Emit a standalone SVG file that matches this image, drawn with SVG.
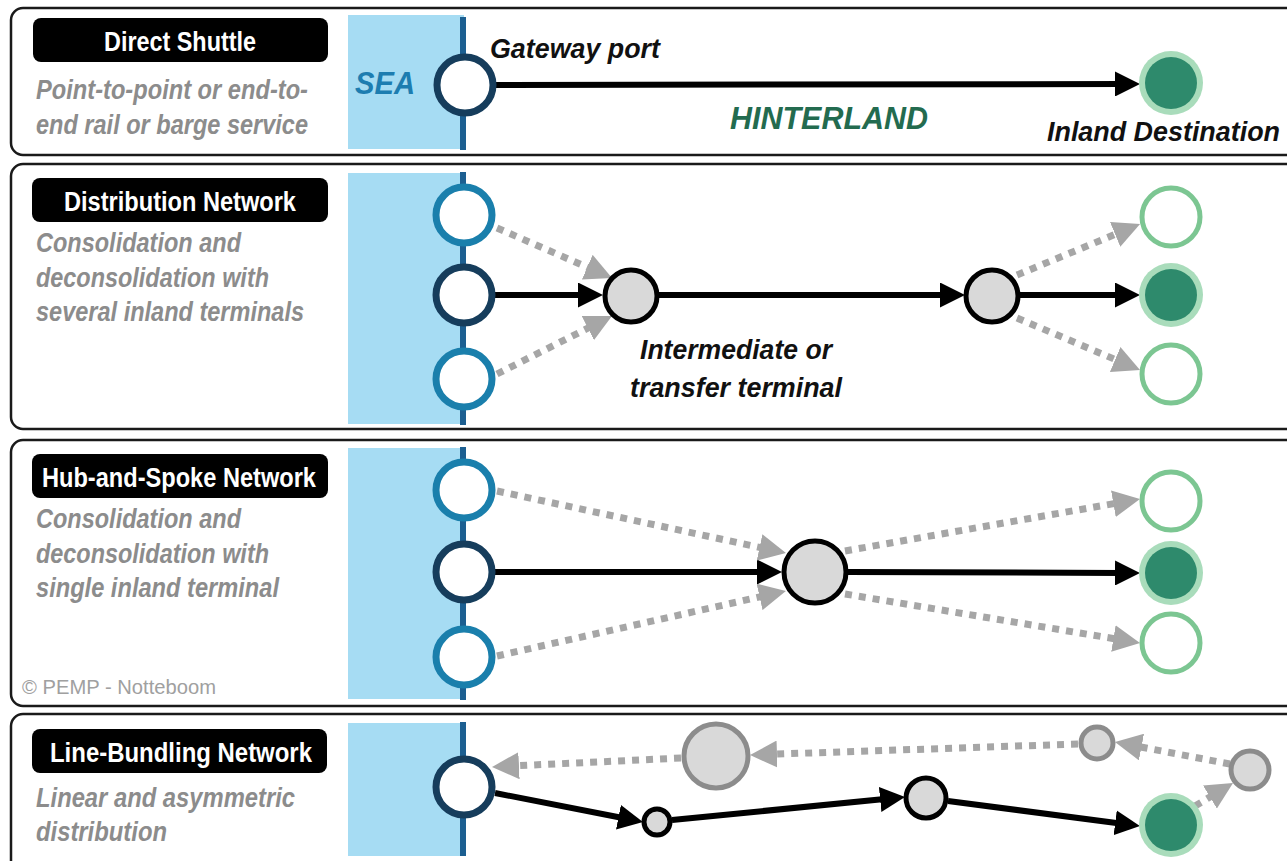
<svg xmlns="http://www.w3.org/2000/svg" width="1287" height="861" viewBox="0 0 1287 861">
<style>
.panel{fill:#fff;stroke:#1a1a1a;stroke-width:2.5}
.sea{fill:#a6dcf3}
.coast{stroke:#1c5f91;stroke-width:6}
.tbox{fill:#000}
.title{font-family:"Liberation Sans",Arial,sans-serif;font-weight:bold;font-size:27px;fill:#fff}
.desc{font-family:"Liberation Sans",Arial,sans-serif;font-weight:bold;font-style:italic;font-size:27px;fill:#8c8c8c}
.lbl{font-family:"Liberation Sans",Arial,sans-serif;font-weight:bold;font-style:italic;font-size:27px;fill:#111}
.port{fill:#fff;stroke:#163d5c;stroke-width:7}
.port2{fill:#fff;stroke:#1a7fac;stroke-width:7}
.term{fill:#d9d9d9;stroke:#000;stroke-width:5}
.gterm{fill:#d9d9d9;stroke:#8c8c8c;stroke-width:5}
.dest-o{fill:#fff;stroke:#7cc692;stroke-width:5}
.halo{fill:#a9dcbb}
.dest{fill:#2e8a6c}
.solid{fill:none;stroke:#000;stroke-width:6}
.dash{fill:none;stroke:#a6a6a6;stroke-width:7;stroke-dasharray:7 7}
</style>
<defs>
<marker id="ab" markerUnits="userSpaceOnUse" markerWidth="25" markerHeight="25" refX="7" refY="12.5" orient="auto"><path d="M0,0 L25,12.5 L0,25 z" fill="#000"/></marker>
<marker id="ag" markerUnits="userSpaceOnUse" markerWidth="27" markerHeight="27" refX="7" refY="13.5" orient="auto"><path d="M0,0 L27,13.5 L0,27 z" fill="#a6a6a6"/></marker>
</defs>
<rect width="1287" height="861" fill="#fff"/>

<g id="panels">
<rect class="panel" x="11" y="8" width="1300" height="147" rx="12"/>
<rect class="panel" x="11" y="164" width="1300" height="265" rx="12"/>
<rect class="panel" x="11" y="440" width="1300" height="266" rx="12"/>
<rect class="panel" x="11" y="714" width="1300" height="170" rx="12"/>
</g>

<g id="sea">
<rect class="sea" x="348" y="15" width="116" height="134"/>
<rect class="sea" x="348" y="173" width="116" height="251"/>
<rect class="sea" x="348" y="448" width="116" height="251"/>
<rect class="sea" x="348" y="723" width="116" height="133"/>
<line class="coast" x1="463" y1="17" x2="463" y2="150"/>
<line class="coast" x1="463" y1="172" x2="463" y2="425"/>
<line class="coast" x1="463" y1="447" x2="463" y2="700"/>
<line class="coast" x1="463" y1="722" x2="463" y2="856"/>
</g>

<g id="titles">
<g id="title-direct"><rect class="tbox" x="33" y="18" width="295" height="44" rx="8"/><text class="title" x="180" y="51" text-anchor="middle" textLength="152" lengthAdjust="spacingAndGlyphs">Direct Shuttle</text></g>
<g id="title-distribution"><rect class="tbox" x="32" y="178" width="296" height="44" rx="8"/><text class="title" x="180" y="211" text-anchor="middle" textLength="232" lengthAdjust="spacingAndGlyphs">Distribution Network</text></g>
<g id="title-hub"><rect class="tbox" x="32" y="454" width="296" height="44" rx="8"/><text class="title" x="179" y="487" text-anchor="middle" textLength="274" lengthAdjust="spacingAndGlyphs">Hub-and-Spoke Network</text></g>
<g id="title-line"><rect class="tbox" x="32" y="729" width="295" height="44" rx="8"/><text class="title" x="181" y="762" text-anchor="middle" textLength="262" lengthAdjust="spacingAndGlyphs">Line-Bundling Network</text></g>
</g>

<g id="descriptions">
<text class="desc" x="36" y="99" textLength="272" lengthAdjust="spacingAndGlyphs">Point-to-point or end-to-</text>
<text class="desc" x="36" y="134" textLength="272" lengthAdjust="spacingAndGlyphs">end rail or barge service</text>
<text class="desc" x="36" y="252" textLength="205" lengthAdjust="spacingAndGlyphs">Consolidation and</text>
<text class="desc" x="36" y="287" textLength="233" lengthAdjust="spacingAndGlyphs">deconsolidation with</text>
<text class="desc" x="36" y="321" textLength="268" lengthAdjust="spacingAndGlyphs">several inland terminals</text>
<text class="desc" x="36" y="528" textLength="205" lengthAdjust="spacingAndGlyphs">Consolidation and</text>
<text class="desc" x="36" y="563" textLength="233" lengthAdjust="spacingAndGlyphs">deconsolidation with</text>
<text class="desc" x="36" y="597" textLength="243" lengthAdjust="spacingAndGlyphs">single inland terminal</text>
<text class="desc" x="36" y="807" textLength="259" lengthAdjust="spacingAndGlyphs">Linear and asymmetric</text>
<text class="desc" x="36" y="841" textLength="131" lengthAdjust="spacingAndGlyphs">distribution</text>
<text x="22" y="694" font-family="'Liberation Sans',Arial,sans-serif" font-size="20" fill="#a0a0a0" textLength="194" lengthAdjust="spacingAndGlyphs">© PEMP - Notteboom</text>
</g>

<g id="labels">
<text class="lbl" x="490" y="58" textLength="170" lengthAdjust="spacingAndGlyphs">Gateway port</text>
<text x="355" y="94" font-family="'Liberation Sans',Arial,sans-serif" font-weight="bold" font-style="italic" font-size="31" fill="#1d7db0" textLength="60" lengthAdjust="spacingAndGlyphs">SEA</text>
<text x="730" y="129" font-family="'Liberation Sans',Arial,sans-serif" font-weight="bold" font-style="italic" font-size="31" fill="#236b4f" textLength="198" lengthAdjust="spacingAndGlyphs">HINTERLAND</text>
<text class="lbl" x="1047" y="141" textLength="233" lengthAdjust="spacingAndGlyphs">Inland Destination</text>
<text class="lbl" x="736" y="359" text-anchor="middle" textLength="192" lengthAdjust="spacingAndGlyphs">Intermediate or</text>
<text class="lbl" x="736" y="397" text-anchor="middle" textLength="212" lengthAdjust="spacingAndGlyphs">transfer terminal</text>
</g>

<g id="connectors">
<line class="solid" x1="494" y1="85" x2="1122" y2="84" marker-end="url(#ab)"/>

<line class="solid" x1="494" y1="295" x2="585" y2="295" marker-end="url(#ab)"/>
<line class="solid" x1="657" y1="295" x2="947" y2="295" marker-end="url(#ab)"/>
<line class="solid" x1="1018" y1="295" x2="1122" y2="295" marker-end="url(#ab)"/>
<line class="dash" x1="497" y1="228" x2="593.7" y2="270" marker-end="url(#ag)"/>
<line class="dash" x1="497" y1="374" x2="594.1" y2="325" marker-end="url(#ag)"/>
<line class="dash" x1="1017" y1="275" x2="1121.6" y2="231.7" marker-end="url(#ag)"/>
<line class="dash" x1="1017" y1="318" x2="1121.6" y2="362.2" marker-end="url(#ag)"/>

<line class="solid" x1="495" y1="572" x2="764" y2="572" marker-end="url(#ab)"/>
<line class="solid" x1="848" y1="572" x2="1122" y2="573" marker-end="url(#ab)"/>
<line class="dash" x1="497" y1="491" x2="766.4" y2="548.8" marker-end="url(#ag)"/>
<line class="dash" x1="497" y1="656" x2="766.4" y2="595.4" marker-end="url(#ag)"/>
<line class="dash" x1="845" y1="551" x2="1120.3" y2="502.5" marker-end="url(#ag)"/>
<line class="dash" x1="845" y1="594" x2="1120.3" y2="639.7" marker-end="url(#ag)"/>

<line class="solid" x1="495" y1="793" x2="625.3" y2="818.5" marker-end="url(#ab)"/>
<line class="solid" x1="672" y1="820" x2="887.1" y2="798.8" marker-end="url(#ab)"/>
<line class="solid" x1="948" y1="801" x2="1122.1" y2="823.7" marker-end="url(#ab)"/>
<line class="dash" x1="1195" y1="806" x2="1215.9" y2="793.4" marker-end="url(#ag)"/>
<line class="dash" x1="1230" y1="764" x2="1134.6" y2="745.8" marker-end="url(#ag)"/>
<line class="dash" x1="1078" y1="744" x2="770" y2="754.3" marker-end="url(#ag)"/>
<line class="dash" x1="681" y1="758" x2="512" y2="766" marker-end="url(#ag)"/>
</g>

<g id="nodes">
<g id="p1-gateway"><circle class="port" cx="465" cy="85" r="28"/></g>
<g id="p1-dest"><circle class="halo" cx="1171" cy="83" r="32"/><circle class="dest" cx="1171" cy="83" r="26"/></g>

<g id="p2-port-top"><circle class="port2" cx="464" cy="215" r="28"/></g>
<g id="p2-port-mid"><circle class="port" cx="464" cy="295" r="28"/></g>
<g id="p2-port-bot"><circle class="port2" cx="464" cy="379" r="28"/></g>
<g id="p2-term-1"><circle class="term" cx="631" cy="296" r="26"/></g>
<g id="p2-term-2"><circle class="term" cx="992" cy="296" r="26"/></g>
<g id="p2-dest-top"><circle class="dest-o" cx="1171" cy="217" r="29"/></g>
<g id="p2-dest-mid"><circle class="halo" cx="1171" cy="295" r="32"/><circle class="dest" cx="1171" cy="295" r="26"/></g>
<g id="p2-dest-bot"><circle class="dest-o" cx="1171" cy="374" r="29"/></g>

<g id="p3-port-top"><circle class="port2" cx="464" cy="490" r="28"/></g>
<g id="p3-port-mid"><circle class="port" cx="464" cy="572" r="28"/></g>
<g id="p3-port-bot"><circle class="port2" cx="464" cy="657" r="28"/></g>
<g id="p3-hub"><circle class="term" cx="815" cy="572" r="31"/></g>
<g id="p3-dest-top"><circle class="dest-o" cx="1171" cy="501" r="29"/></g>
<g id="p3-dest-mid"><circle class="halo" cx="1171" cy="573" r="32"/><circle class="dest" cx="1171" cy="573" r="26"/></g>
<g id="p3-dest-bot"><circle class="dest-o" cx="1171" cy="643" r="29"/></g>

<g id="p4-port"><circle class="port" cx="464" cy="787" r="28"/></g>
<g id="p4-stop-1"><circle class="term" cx="657" cy="822" r="13"/></g>
<g id="p4-stop-2"><circle class="term" cx="926" cy="798" r="20"/></g>
<g id="p4-dest"><circle class="halo" cx="1171" cy="825" r="32"/><circle class="dest" cx="1171" cy="825" r="26"/></g>
<g id="p4-return-1"><circle class="gterm" cx="1250" cy="770" r="19"/></g>
<g id="p4-return-2"><circle class="gterm" cx="1097" cy="743" r="16"/></g>
<g id="p4-return-3"><circle class="gterm" cx="716" cy="756" r="32"/></g>
</g>
</svg>
